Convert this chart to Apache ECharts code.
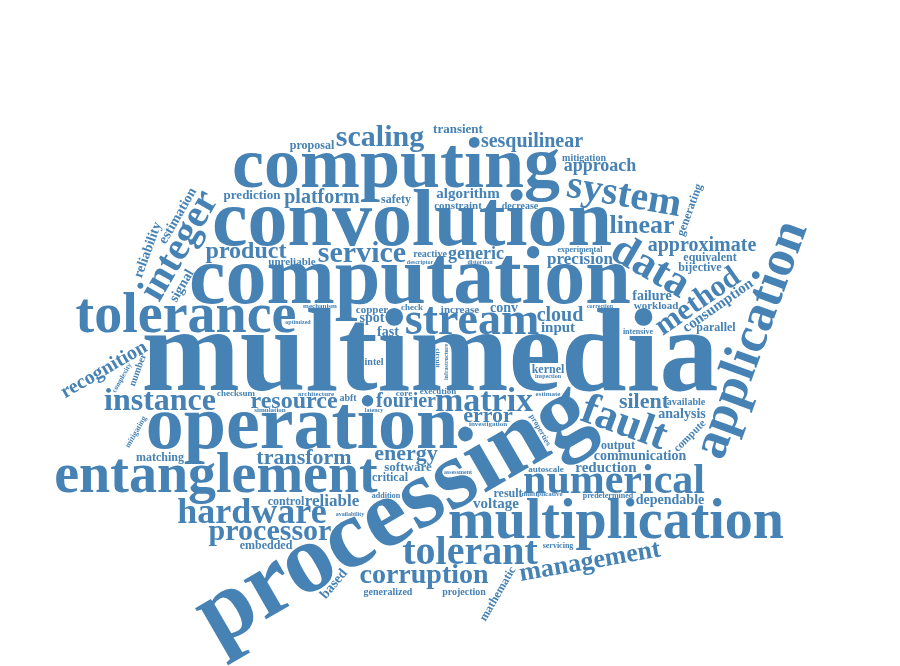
<!DOCTYPE html>
<html>
<head>
<meta charset="utf-8">
<script src="https://cdn.jsdelivr.net/npm/echarts@6/dist/echarts.min.js"></script>
<style>html,body{margin:0;background:#fff}#main{width:900px;height:666px}</style>
</head>
<body>
<div id="main"></div>
<script>
// words, sizes (px) and rotation (deg, counter-clockwise)
var words = ['multimedia','processing','computation','convolution','operation','computing','entanglement','multiplication','tolerance','application',
  'stream','fault','data','numerical','integer','tolerant','system','hardware','matrix','service',
  'instance','processor','corruption','method','scaling','management','resource','product','linear','energy',
  'transform','approximate','sesquilinear','recognition','platform','fourier','error','cloud','silent','generic',
  'input','precision','reliable','software','algorithm','communication','approach','voltage','consumption','reduction',
  'analysis','prediction','embedded','dependable','matching','signal','reliability','estimation','transient','failure',
  'kernel','critical','output','increase','bijective','unreliable','equivalent','workload','available','proposal',
  'mathematic','compute','mitigation','parallel','constraint','based','spot','result','fast','safety',
  'intel','copper','conv','abft','control','generating','projection','generalized','reactive','autoscale',
  'checksum','properties','experimental','intensive','addition','decrease','execution','number','check','core',
  'predetermined','mitigating','investigation','complexity','servicing','architecture','mechanism','circuit','inspection','latency',
  'multiplicative','infrastructure','optimized','estimate','distortion','assessment','simulation','availability','correction','descriptor'];
var sizes = [118,98,82,80,76,72,56,56,56,52,
  46,44,44,42,40,40,40,36,34,30,
  32,30,28,30,30,26,24,24,26,22,
  22,20,20,20,20,20,22,20,22,18,
  15,17,17,13,15,14,18,15,15,15,
  14,13,12,14,12,14,14,14,13,14,
  12,12,12,11,12,11,12,11,10,12,
  12,11,10,12,11,14,14,12,14,12,
  10,11,14,10,12,12,10,10,10,9,
  9,8,8,8,8,10,9,10,9,9,
  8,8,7,7,8,7,7,7,6,6,
  7,6,6,7,6,6,7,6,6,6];
var rotations = [0,30,0,0,0,0,0,0,0,70,
  0,-20,-30,0,60,0,-10,0,0,0,
  0,0,0,35,0,10,0,0,0,0,
  0,0,0,30,0,0,0,0,0,0,
  0,0,0,0,0,0,0,0,35,0,
  0,0,0,0,0,60,70,60,0,0,
  0,0,0,0,0,0,0,0,0,0,
  60,45,0,0,0,50,0,0,0,0,
  0,0,0,0,0,70,0,0,0,0,
  0,-60,0,0,0,0,0,70,0,0,
  0,60,0,60,0,0,0,-90,0,0,
  0,90,0,0,0,0,0,0,0,0];

var W = 900, H = 666, CELL = 2;
var gw = W / CELL, gh = Math.ceil(H / CELL);
var grid = new Uint8Array(gw * gh);
var FONT = "bold {s}px 'Liberation Serif', 'DejaVu Serif', serif";
var cvs = document.createElement('canvas');
var ctx = cvs.getContext('2d');

// draw the word flat, then turn its pixels the same way zrender turns the text (anticlockwise)
function maskOf(text, size, rotDeg) {
  var font = FONT.replace('{s}', size);
  ctx.font = font;
  var bw = Math.ceil(ctx.measureText(text).width) + 6, bh = Math.ceil(size * 1.3);
  cvs.width = bw; cvs.height = bh;
  ctx.font = font;
  ctx.textAlign = 'center';
  ctx.textBaseline = 'middle';
  ctx.fillStyle = '#000';
  ctx.fillText(text, bw / 2, bh / 2);
  var d = ctx.getImageData(0, 0, bw, bh).data;
  var a = rotDeg * Math.PI / 180, c = Math.cos(a), s = Math.sin(a);
  var cells = {}, list = [];
  for (var y = 0; y < bh; y++) for (var x = 0; x < bw; x++) {
    if (d[(y * bw + x) * 4 + 3] > 20) {
      var dx = x - bw / 2, dy = y - bh / 2;
      var rx = Math.floor((dx * c + dy * s) / CELL), ry = Math.floor((-dx * s + dy * c) / CELL);
      var k = rx + ',' + ry;
      if (!cells[k]) { cells[k] = 1; list.push([rx, ry]); }
    }
  }
  return list;
}

function fits(list, cx, cy) {
  for (var i = 0; i < list.length; i++) {
    var x = cx + list[i][0], y = cy + list[i][1];
    if (x < 0 || y < 0 || x >= gw || y >= gh || grid[y * gw + x]) return false;
  }
  return true;
}

var placed = [];
for (var i = 0; i < words.length; i++) {
  var list = maskOf(words[i], sizes[i], rotations[i]);
  var c0x = 215, c0y = 180;
  for (var t = 0; t < 1200; t += 0.06) {
    var cx = Math.round(c0x + t * Math.cos(t) * 1.35 * 0.5);
    var cy = Math.round(c0y + t * Math.sin(t) * 0.5);
    if (Math.abs(cx - c0x) > gw / 2 + 5 && Math.abs(cy - c0y) > gh / 2 + 5) break;
    if (fits(list, cx, cy)) {
      list.forEach(function (p) { grid[(cy + p[1]) * gw + cx + p[0]] = 1; });
      placed.push({ text: words[i], size: sizes[i], rot: rotations[i], x: cx * CELL, y: cy * CELL });
      break;
    }
  }
}

var chart = echarts.init(document.getElementById('main'));
chart.setOption({
  backgroundColor: '#fff',
  graphic: placed.map(function (p) {
    return {
      type: 'text', x: p.x, y: p.y, rotation: p.rot * Math.PI / 180,
      style: { text: p.text, font: FONT.replace('{s}', p.size), fill: '#4682b4', align: 'center', verticalAlign: 'middle' }
    };
  })
});
</script>
</body>
</html>
